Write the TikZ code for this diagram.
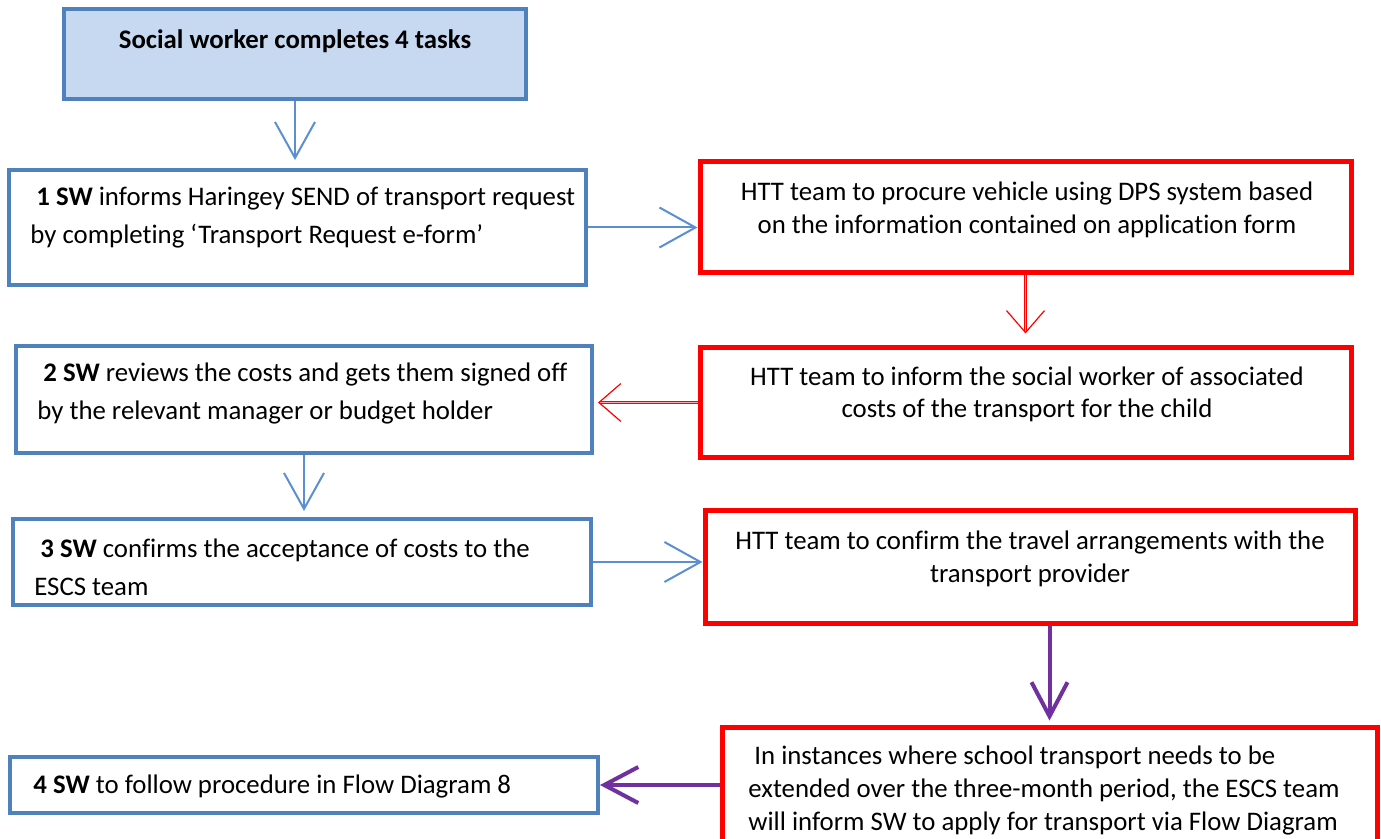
\documentclass[tikz,border=0pt]{standalone}
\usepackage{fontspec}
\setmainfont{Carlito}[Ligatures=NoCommon]
\usepackage{xcolor}
\usetikzlibrary{arrows.meta,positioning,fit}
\definecolor{swblue}{HTML}{4F81BD}
\definecolor{swfill}{HTML}{C6D9F1}
\definecolor{arrblue}{HTML}{5B8FD0}
\definecolor{httred}{HTML}{FF0000}
\definecolor{escpurple}{HTML}{7030A0}

\begin{document}
\begin{tikzpicture}[x=0.5pt,y=-0.5pt,
        swbox/.style={draw=swblue, line width=2pt, inner sep=0pt},
        httbox/.style={draw=httred, line width=2.5pt, inner sep=0pt},
        swtext/.style={inner sep=0pt, align=left, font=\fontsize{13.4}{19}\selectfont},
        htttext/.style={inner sep=0pt, align=center, font=\fontsize{13.4}{16.5}\selectfont},
        bluearr/.style={draw=arrblue, line width=1pt, -{Straight Barb[length=18pt,width=20pt]}},
        redarr/.style={draw=httred, line width=0.6pt, double=httred!35, double distance=0.6pt,
          -{Straight Barb[length=11pt,width=19pt]}},
        purparr/.style={draw=escpurple, line width=2pt, -{Straight Barb[length=17pt,width=18pt]}}]
          \useasboundingbox (0,0) rectangle (1381,839);

          %social worker side
          \node[swbox, fill=swfill, fit={(64,9) (526,99)}] (task) {};
          \node[swbox, fit={(9,170) (586,285)}] (sw1) {};
          \node[swbox, fit={(16,346) (592,453)}] (sw2) {};
          \node[swbox, fit={(13,519) (591,605)}] (sw3) {};
          \node[swbox, fit={(10,757) (598,813)}] (sw4) {};

          %HTT team side
          \node[httbox, fit={(700,162) (1351,273)}] (htt1) {};
          \node[httbox, fit={(700,348) (1351,457)}] (htt2) {};
          \node[httbox, fit={(705,510) (1355,623)}] (htt3) {};
          \node[httbox, fit={(722,727) (1377,860)}] (htt4) {};

          %texts
          \node[swtext, font=\fontsize{13.4}{19}\selectfont\bfseries] (tasktxt) at (295,41) {Social worker completes 4 tasks};
          \node[swtext, anchor=base west] (sw1txt) at (30,244)
            {\hspace*{3pt}\textbf{1 SW} informs Haringey SEND of transport request\\by completing ‘Transport Request e-form’};
          \node[swtext, anchor=base west] (sw2txt) at (37,420)
            {\hspace*{3pt}\textbf{2 SW} reviews the costs and gets them signed off\\by the relevant manager or budget holder};
          \node[swtext, anchor=base west] (sw3txt) at (34,595)
            {\hspace*{3pt}\textbf{3 SW} confirms the acceptance of costs to the\\ESCS team};
          \node[swtext, anchor=base west] (sw4txt) at (33,793)
            {\textbf{4 SW} to follow procedure in Flow Diagram 8};
          \node[htttext, anchor=base] (htt1txt) at (1027,234)
            {HTT team to procure vehicle using DPS system based\\on the information contained on application form};
          \node[htttext, anchor=base] (htt2txt) at (1027,418)
            {HTT team to inform the social worker of associated\\costs of the transport for the child};
          \node[htttext, anchor=base] (htt3txt) at (1030,582)
            {HTT team to confirm the travel arrangements with the\\transport provider};
          \node[htttext, align=left, anchor=base west] (htt4txt) at (748,830)
            {\hspace*{3pt}In instances where school transport needs to be\\extended over the three-month period, the ESCS team\\will inform SW to apply for transport via Flow Diagram};

          %connectors
          \draw[bluearr, shorten >=4pt] (task.south) -- (task.south |- sw1.north);
          \draw[bluearr] (sw1.east) -- (sw1.east -| htt1.west);
          \draw[redarr, shorten >=6pt] (htt1.south) -- (htt1.south |- htt2.north);
          \draw[redarr, shorten >=2pt] (htt2.west) -- (htt2.west -| sw2.east);
          \draw[bluearr, shorten >=3pt] (sw2.south) -- (sw2.south |- sw3.north);
          \draw[bluearr] (sw3.east) -- (sw3.east -| htt3.west);
          \draw[purparr, shorten >=2pt] (htt3.south -| htt4.north) -- (htt4.north);
          \draw[purparr] (htt4.west |- sw4.east) -- (sw4.east);
\end{tikzpicture}
\end{document}
